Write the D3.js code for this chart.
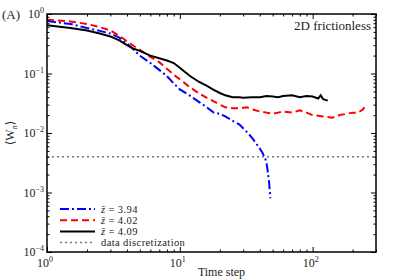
<!DOCTYPE html>
<html>
<head>
  <script src="https://d3js.org/d3.v7.min.js"></script>
  <style>
    body { margin: 0; background: #fff; }
    svg text { font-family: "Liberation Serif", "DejaVu Serif", serif; fill: #222; }
  </style>
</head>
<body>
<div id="chart"></div>
<script>
// time steps and <W_n> for each mean coordination number
const blueX = [1, 1.5, 2, 2.5, 3, 3.5, 4, 4.5, 5, 6, 7, 8, 9, 10, 12, 14, 16, 18, 20, 22, 25, 28, 30, 32, 35, 37, 40, 42, 44, 45, 46, 47, 48];
const blueY = [0.76, 0.68, 0.58, 0.52, 0.47, 0.40, 0.32, 0.25, 0.20, 0.15, 0.115, 0.09, 0.068, 0.054, 0.042, 0.033, 0.027, 0.022, 0.021, 0.019, 0.016, 0.014, 0.012, 0.0104, 0.0083, 0.0070, 0.0055, 0.0046, 0.0037, 0.0031, 0.0022, 0.0015, 0.0008];

const redX = [1, 1.5, 2, 2.5, 3, 3.5, 4, 4.5, 5, 6, 7, 8, 9, 10, 12, 14, 16, 18, 20, 22, 25, 28, 32, 35, 40, 45, 50, 55, 60, 70, 80, 90, 100, 120, 140, 160, 180, 200, 220, 240, 245];
const redY = [0.80, 0.75, 0.68, 0.60, 0.53, 0.43, 0.35, 0.29, 0.25, 0.19, 0.155, 0.12, 0.095, 0.08, 0.058, 0.046, 0.039, 0.034, 0.030, 0.027, 0.026, 0.026, 0.027, 0.025, 0.023, 0.022, 0.021, 0.022, 0.023, 0.022, 0.024, 0.022, 0.020, 0.019, 0.018, 0.020, 0.021, 0.022, 0.022, 0.025, 0.027];

const blackX = [1, 1.5, 2, 2.5, 3, 3.5, 4, 4.5, 5, 6, 7, 8, 9, 10, 11, 12, 14, 16, 18, 20, 22, 25, 28, 30, 35, 40, 45, 50, 55, 60, 70, 80, 90, 100, 110, 115, 120, 130];
const blackY = [0.65, 0.58, 0.53, 0.47, 0.42, 0.36, 0.30, 0.26, 0.24, 0.20, 0.18, 0.165, 0.15, 0.125, 0.105, 0.09, 0.072, 0.062, 0.053, 0.047, 0.043, 0.040, 0.040, 0.039, 0.040, 0.040, 0.042, 0.041, 0.040, 0.042, 0.043, 0.040, 0.042, 0.041, 0.038, 0.043, 0.037, 0.035];

const discretization = 0.004;

const seriesLabels = ["3.94", "4.02", "4.09"];
const yMajorTicks = [1e-4, 1e-3, 1e-2, 1e-1, 1];
const yExponents = ["\u22124", "\u22123", "\u22122", "\u22121", "0"];
const xMajorTicks = [1, 10, 100];
const xExponents = ["0", "1", "2"];

const width = 399, height = 279;
const margin = { top: 14, right: 23, bottom: 27, left: 47 };

const svg = d3.select("#chart").append("svg")
  .attr("width", width).attr("height", height);

const x = d3.scaleLog().domain([1, 300]).range([margin.left, width - margin.right]);
const y = d3.scaleLog().domain([1e-4, 1]).range([height - margin.bottom, margin.top]);

const series = [
  { xs: blueX, ys: blueY, color: "#0000ff", dash: "9,3,2,3" },
  { xs: redX, ys: redY, color: "#ff0000", dash: "7,4" },
  { xs: blackX, ys: blackY, color: "#000000", dash: null }
];

// clip
svg.append("clipPath").attr("id", "clip").append("rect")
  .attr("x", margin.left).attr("y", margin.top)
  .attr("width", x.range()[1] - margin.left).attr("height", y.range()[0] - margin.top);

const plot = svg.append("g").attr("clip-path", "url(#clip)");

plot.append("line")
  .attr("x1", x(1)).attr("x2", x(300))
  .attr("y1", y(discretization)).attr("y2", y(discretization))
  .attr("stroke", "#777").attr("stroke-width", 1.5).attr("stroke-dasharray", "2,3");

const line = d3.line().x(d => x(d[0])).y(d => y(d[1]));
series.forEach(s => {
  plot.append("path")
    .datum(s.xs.map((v, i) => [v, s.ys[i]]))
    .attr("d", line)
    .attr("fill", "none")
    .attr("stroke", s.color)
    .attr("stroke-width", 2)
    .attr("stroke-dasharray", s.dash);
});

// axes with inward ticks on all sides
const xMinor = x.ticks().filter(t => !xMajorTicks.includes(t));
const yMinor = y.ticks().filter(t => !yMajorTicks.some(m => Math.abs(m - t) / t < 1e-6));

function addAxis(axisFn, scale, transform, majors, minors) {
  const g1 = svg.append("g").attr("transform", transform)
    .call(axisFn(scale).tickValues(majors).tickSize(-5).tickFormat(""));
  const g2 = svg.append("g").attr("transform", transform)
    .call(axisFn(scale).tickValues(minors).tickSize(-2.5).tickFormat(""));
  [g1, g2].forEach(g => {
    g.select(".domain").remove();
    g.selectAll("line").attr("stroke", "#000").attr("stroke-width", 1);
  });
}
const x0 = margin.left, x1 = x.range()[1], y0 = y.range()[0], y1 = margin.top;
addAxis(d3.axisBottom, x, `translate(0,${y0})`, xMajorTicks, xMinor);
addAxis(d3.axisTop, x, `translate(0,${y1})`, xMajorTicks, xMinor);
addAxis(d3.axisLeft, y, `translate(${x0},0)`, yMajorTicks, yMinor);
addAxis(d3.axisRight, y, `translate(${x1},0)`, yMajorTicks, yMinor);

svg.append("rect")
  .attr("x", x0).attr("y", y1).attr("width", x1 - x0).attr("height", y0 - y1)
  .attr("fill", "none").attr("stroke", "#000").attr("stroke-width", 1.5);

// tick labels
yMajorTicks.forEach((t, i) => {
  const txt = svg.append("text").attr("x", x0 - 3).attr("y", y(t) + 4)
    .attr("text-anchor", "end").attr("font-size", 12);
  txt.append("tspan").text("10");
  txt.append("tspan").attr("dy", -5).attr("font-size", 8).text(yExponents[i]);
});
xMajorTicks.forEach((t, i) => {
  const txt = svg.append("text").attr("x", x(t) - 2).attr("y", y0 + 15)
    .attr("text-anchor", "middle").attr("font-size", 12);
  txt.append("tspan").text("10");
  txt.append("tspan").attr("dy", -5).attr("font-size", 8).text(xExponents[i]);
});

svg.append("text").attr("x", (x0 + x1) / 2 + 10).attr("y", height - 3)
  .attr("text-anchor", "middle").attr("font-size", 12).text("Time step");

const yl = svg.append("text")
  .attr("transform", `translate(14,${(y0 + y1) / 2}) rotate(-90)`)
  .attr("text-anchor", "middle").attr("font-size", 12);
yl.append("tspan").text("\u27e8W");
yl.append("tspan").attr("dy", 3).attr("font-size", 8).attr("font-style", "italic").text("n");
yl.append("tspan").attr("dy", -3).text("\u27e9");

svg.append("text").attr("x", 2).attr("y", 19).attr("font-size", 13).text("(A)");
svg.append("text").attr("x", x1 - 5).attr("y", 30).attr("text-anchor", "end")
  .attr("font-size", 13).text("2D frictionless");

// legend
const legend = svg.append("g");
const rows = series.map((s, i) => ({ color: s.color, dash: s.dash, w: 2, label: seriesLabels[i] }));
rows.push({ color: "#777", dash: "2,3", w: 1.5, label: null });
rows.forEach((r, i) => {
  const ly = 209 + i * 11.2;
  legend.append("line").attr("x1", 60).attr("x2", 95).attr("y1", ly).attr("y2", ly)
    .attr("stroke", r.color).attr("stroke-width", r.w).attr("stroke-dasharray", r.dash);
  const t = legend.append("text").attr("x", 101).attr("y", ly + 3.5)
    .attr("font-size", 10.5).attr("letter-spacing", 0.4);
  if (r.label) {
    t.append("tspan").attr("font-style", "italic").text("z\u0304");
    t.append("tspan").text(" = " + r.label);
  } else {
    t.text("data discretization");
  }
});
</script>
</body>
</html>
